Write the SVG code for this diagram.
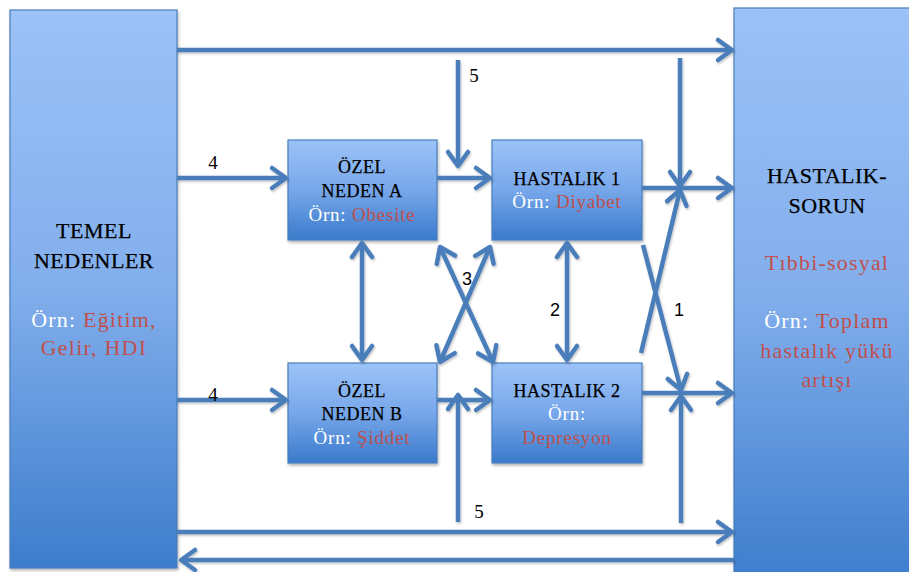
<svg xmlns="http://www.w3.org/2000/svg" width="909" height="572" viewBox="0 0 909 572">
<defs>
<linearGradient id="gBig" x1="0" y1="0" x2="0" y2="1">
<stop offset="0" stop-color="#9CC2F7"/>
<stop offset="0.5" stop-color="#82AEEC"/>
<stop offset="1" stop-color="#3C7DCC"/>
</linearGradient>
<linearGradient id="gSmall" x1="0" y1="0" x2="0" y2="1">
<stop offset="0" stop-color="#9CC3F8"/>
<stop offset="0.5" stop-color="#77A7EA"/>
<stop offset="1" stop-color="#3A7ACB"/>
</linearGradient>
<filter id="sh" x="-10%" y="-10%" width="130%" height="130%">
<feDropShadow dx="1" dy="2" stdDeviation="1.5" flood-color="#000" flood-opacity="0.3"/>
</filter>
<filter id="lsh" x="-5%" y="-5%" width="110%" height="110%">
<feDropShadow dx="1" dy="1.5" stdDeviation="1" flood-color="#000" flood-opacity="0.25"/>
</filter>
<marker id="ah" markerUnits="userSpaceOnUse" markerWidth="24" markerHeight="26" refX="19" refY="13" orient="auto-start-reverse" overflow="visible">
<path d="M5,3 L19,13 L5,23" fill="none" stroke="#4A7EBB" stroke-width="4.5" stroke-linecap="round" stroke-linejoin="round"/>
</marker>
</defs>
<style>
.box{stroke:#4A7EBB;stroke-width:1.2;filter:url(#sh)}
.big{fill:url(#gBig)}
.small{fill:url(#gSmall)}
.c{fill:none;stroke:#4A7EBB;stroke-width:4.5}
.a{marker-end:url(#ah)}
.d{marker-start:url(#ah);marker-end:url(#ah)}
.t{font-family:"Liberation Serif","DejaVu Serif",serif;text-anchor:middle;fill:#000}
.bk{stroke:#000;stroke-width:0.25}
.lg{font-size:22px;letter-spacing:0.5px}
.lge{font-size:22px;letter-spacing:1.2px}
.sm{font-size:18px;letter-spacing:0.5px}
.sme{font-size:19px;letter-spacing:0.8px}
.w{fill:#FFFFFF}
.r{fill:#C0504D}
.lb{font-family:"Liberation Serif","DejaVu Serif",serif;font-size:19px;fill:#000;text-anchor:middle}
.ls{font-family:"Liberation Sans","DejaVu Sans",sans-serif;font-size:18px;fill:#000;text-anchor:middle}
</style>

<g id="temel-nedenler">
<rect class="box big" x="10" y="10" width="167" height="558"/>
<text class="t lg bk" x="94" y="238">TEMEL</text>
<text class="t lg bk" x="94" y="268">NEDENLER</text>
<text class="t lge" x="94" y="327"><tspan class="w">Örn:</tspan> <tspan class="r">Eğitim,</tspan></text>
<text class="t lge r" x="94" y="355">Gelir, HDI</text>
</g>

<g id="hastalik-sorun">
<rect class="box big" x="734" y="8" width="185" height="575"/>
<text class="t lg bk" x="827" y="183">HASTALIK-</text>
<text class="t lg bk" x="827" y="213">SORUN</text>
<text class="t lge r" x="827" y="270">Tıbbi-sosyal</text>
<text class="t lge" x="827" y="328"><tspan class="w">Örn:</tspan> <tspan class="r">Toplam</tspan></text>
<text class="t lge r" x="827" y="358">hastalık yükü</text>
<text class="t lge r" x="827" y="387">artışı</text>
</g>

<g id="ozel-neden-a">
<rect class="box small" x="288" y="140" width="149" height="100"/>
<text class="t sm bk" x="362" y="173">ÖZEL</text>
<text class="t sm bk" x="362" y="197">NEDEN A</text>
<text class="t sme" x="362" y="221"><tspan class="w">Örn:</tspan> <tspan class="r">Obesite</tspan></text>
</g>

<g id="hastalik-1">
<rect class="box small" x="492" y="140" width="150" height="100"/>
<text class="t sm bk" x="567" y="185">HASTALIK 1</text>
<text class="t sme" x="567" y="208"><tspan class="w">Örn:</tspan> <tspan class="r">Diyabet</tspan></text>
</g>

<g id="ozel-neden-b">
<rect class="box small" x="288" y="363" width="149" height="100"/>
<text class="t sm bk" x="362" y="397">ÖZEL</text>
<text class="t sm bk" x="362" y="420">NEDEN B</text>
<text class="t sme" x="362" y="444"><tspan class="w">Örn:</tspan> <tspan class="r">Şiddet</tspan></text>
</g>

<g id="hastalik-2">
<rect class="box small" x="492" y="363" width="150" height="100"/>
<text class="t sm bk" x="567" y="397">HASTALIK 2</text>
<text class="t sme w" x="567" y="420">Örn:</text>
<text class="t sme r" x="567" y="444">Depresyon</text>
</g>

<g id="connectors" filter="url(#lsh)">
<path class="c a" d="M177,50 H732"/>
<path class="c a" d="M177,178 H286"/>
<path class="c a" d="M177,400 H286"/>
<path class="c a" d="M437,178 H490"/>
<path class="c a" d="M437,400 H490"/>
<path class="c a" d="M458,60 V166"/>
<path class="c a" d="M458,522 V395"/>
<path class="c d" d="M362,243 V360"/>
<path class="c d" d="M567,243 V360"/>
<path class="c d" d="M440,247 L493,362"/>
<path class="c d" d="M490,247 L440,362"/>
<path class="c a" d="M642,188 H732"/>
<path class="c a" d="M642,393 H732"/>
<path class="c a" d="M680,58 V186"/>
<path class="c a" d="M641,353 L680,190"/>
<path class="c a" d="M643,245 L681,390"/>
<path class="c a" d="M681,523 V396"/>
<path class="c a" d="M177,532 H732"/>
<path class="c a" d="M734,560 H181"/>
</g>

<g id="labels">
<text class="lb" x="213" y="169">4</text>
<text class="lb" x="213" y="401">4</text>
<text class="lb" x="474" y="82">5</text>
<text class="lb" x="479" y="518">5</text>
<text class="ls" x="467" y="285">3</text>
<text class="ls" x="555" y="316">2</text>
<text class="ls" x="679" y="316">1</text>
</g>
</svg>
